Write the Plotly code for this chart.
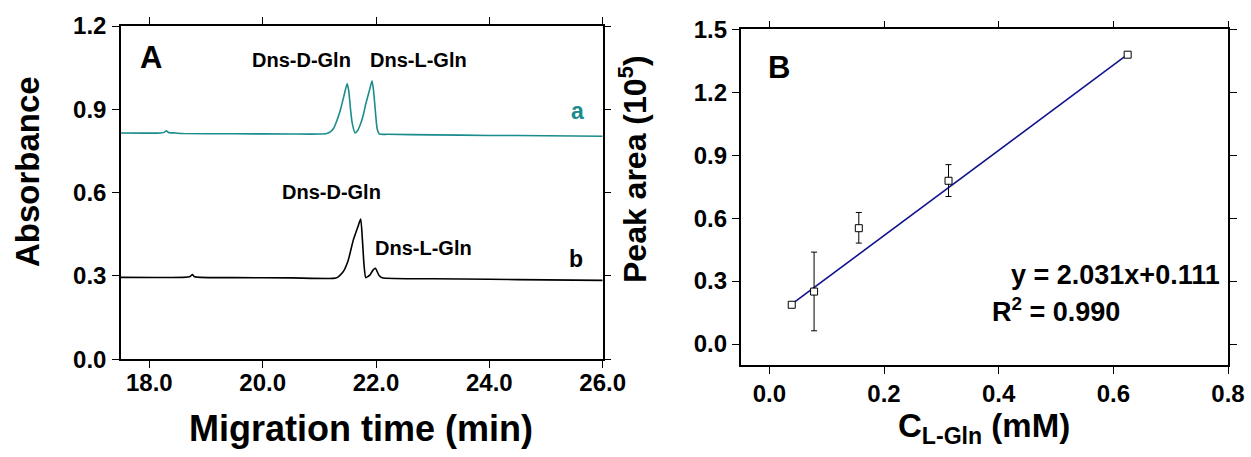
import plotly.graph_objects as go

# ---------------- Data ----------------
# Panel A: electropherograms (migration time in min, absorbance)
trace_a_t = [17.5, 18.2, 18.27, 18.30, 18.34, 18.45, 18.6, 19.5, 20.5, 21.0, 21.13, 21.20, 21.25,
             21.31, 21.37, 21.43, 21.49, 21.52, 21.55, 21.58, 21.63, 21.67, 21.71, 21.77, 21.82,
             21.88, 21.93, 21.96, 21.99, 22.02, 22.06, 22.2, 23.0, 24.0, 25.0, 26.0]
trace_a_abs = [0.815, 0.815, 0.818, 0.823, 0.817, 0.815, 0.813, 0.812, 0.811, 0.811, 0.813, 0.820,
               0.831, 0.86, 0.897, 0.945, 0.993, 0.965, 0.90, 0.85, 0.815, 0.822, 0.838, 0.875,
               0.92, 0.965, 1.003, 0.96, 0.89, 0.83, 0.811, 0.810, 0.808, 0.806, 0.805, 0.803]

trace_b_t = [17.5, 18.6, 18.72, 18.76, 18.80, 18.9, 19.5, 20.5, 21.25, 21.32, 21.42, 21.51, 21.60,
             21.69, 21.73, 21.76, 21.79, 21.82, 21.89, 21.95, 21.99, 22.05, 22.11, 23.0, 24.0,
             25.0, 26.0]
trace_b_abs = [0.295, 0.295, 0.298, 0.305, 0.297, 0.295, 0.294, 0.293, 0.2915, 0.295, 0.315, 0.357,
               0.43, 0.483, 0.505, 0.43, 0.335, 0.294, 0.303, 0.322, 0.328, 0.303, 0.294, 0.290,
               0.288, 0.286, 0.284]

# Panel B: calibration
conc = [0.039, 0.078, 0.156, 0.3125, 0.625]
peak_area = [0.187, 0.25, 0.552, 0.778, 1.379]
err_plus = [0.01, 0.188, 0.075, 0.077, 0.008]
err_minus = [0.01, 0.187, 0.071, 0.075, 0.008]
fit_x = [0.039, 0.625]
fit_y = [0.19, 1.38]

a_xticks = [18, 20, 22, 24, 26]
a_xlabels = ["18.0", "20.0", "22.0", "24.0", "26.0"]
a_yticks = [0.0, 0.3, 0.6, 0.9, 1.2]
a_ylabels = ["0.0", "0.3", "0.6", "0.9", "1.2"]
b_xticks = [0.0, 0.2, 0.4, 0.6, 0.8]
b_xlabels = ["0.0", "0.2", "0.4", "0.6", "0.8"]
b_yticks = [0.0, 0.3, 0.6, 0.9, 1.2, 1.5]
b_ylabels = ["0.0", "0.3", "0.6", "0.9", "1.2", "1.5"]

# ---------------- Figure ----------------
W, H = 1251, 457
FONT = "Arial, Liberation Sans, Helvetica, sans-serif"
TEAL = "#1a8c8c"
NAVY = "#12128f"

def px(x):
    return x / W

def py(y):
    return (H - y) / H

def b(labels):
    return ["<b>%s</b>" % s for s in labels]

fig = go.Figure()

fig.add_trace(go.Scatter(x=trace_a_t, y=trace_a_abs, mode="lines",
                         line=dict(color=TEAL, width=1.6, shape="spline", smoothing=0.5),
                         xaxis="x", yaxis="y", showlegend=False, hoverinfo="skip"))
fig.add_trace(go.Scatter(x=trace_b_t, y=trace_b_abs, mode="lines",
                         line=dict(color="black", width=1.6, shape="spline", smoothing=0.5),
                         xaxis="x", yaxis="y", showlegend=False, hoverinfo="skip"))

fig.add_trace(go.Scatter(x=fit_x, y=fit_y, mode="lines",
                         line=dict(color=NAVY, width=1.6), xaxis="x2", yaxis="y2",
                         showlegend=False, hoverinfo="skip"))
fig.add_trace(go.Scatter(x=conc, y=peak_area, mode="markers",
                         marker=dict(symbol="square", size=7, color="white",
                                     line=dict(color="black", width=1)),
                         error_y=dict(type="data", array=err_plus, arrayminus=err_minus,
                                      color="black", thickness=1, width=3),
                         xaxis="x2", yaxis="y2", showlegend=False, hoverinfo="skip"))

tickfont = dict(family=FONT, size=24, color="black")
common = dict(showline=True, linecolor="black", linewidth=1.5, mirror="ticks",
              ticks="outside", ticklen=7, tickwidth=1, tickcolor="black",
              showgrid=False, zeroline=False, tickfont=tickfont, automargin=False)

fig.update_layout(
    width=W, height=H, autosize=False,
    margin=dict(l=0, r=0, t=0, b=0, pad=0),
    paper_bgcolor="white", plot_bgcolor="white",
    xaxis=dict(domain=[px(121), px(602.7)], range=[17.5, 26], tickvals=a_xticks,
               ticktext=b(a_xlabels), anchor="y", ticklabelstandoff=-6, **common),
    yaxis=dict(domain=[py(359.3), py(26)], range=[0, 1.2], tickvals=a_yticks,
               ticktext=b(a_ylabels), anchor="x", ticklabelstandoff=1, **common),
    xaxis2=dict(domain=[px(740.7), px(1228)], range=[-0.05, 0.8], tickvals=b_xticks,
                ticktext=b(b_xlabels), anchor="y2", ticklabelstandoff=-1, **common),
    yaxis2=dict(domain=[py(365), py(29.3)], range=[-0.1, 1.5], tickvals=b_yticks,
                ticktext=b(b_ylabels), anchor="x2", ticklabelstandoff=0, **common),
)

def f(size, color="black"):
    return dict(family=FONT, size=size, color=color)

def paper_ann(text, x, y, size, angle=0, xanchor="center", color="black"):
    return dict(text="<b>%s</b>" % text, x=px(x), y=py(y), xref="paper", yref="paper",
                showarrow=False, textangle=angle, font=f(size, color),
                xanchor=xanchor, yanchor="middle")

def data_ann(text, x, y, size, color="black"):
    return dict(text="<b>%s</b>" % text, x=x, y=y, xref="x", yref="y", showarrow=False,
                font=f(size, color), xanchor="center", yanchor="middle")

ann = [
    paper_ann("A", 151, 57.5, 31),
    paper_ann("B", 778.6, 68, 31),
    paper_ann("Absorbance", 27, 172, 33, angle=-90),
    paper_ann("Migration time (min)", 361, 428, 36),
    paper_ann("Peak area (10<sup>5</sup>)", 633, 169, 32, angle=-90),
    paper_ann("C<sub>L-Gln</sub> (mM)", 984, 428, 33),
    data_ann("Dns-D-Gln", 20.68, 1.077, 20),
    data_ann("Dns-L-Gln", 22.75, 1.077, 20),
    data_ann("Dns-D-Gln", 21.22, 0.601, 20),
    data_ann("Dns-L-Gln", 22.83, 0.40, 20),
    data_ann("a", 25.56, 0.893, 23, TEAL),
    data_ann("b", 25.53, 0.36, 23),
    paper_ann("y = 2.031x+0.111", 1222, 275, 27, xanchor="right"),
    paper_ann("R<sup>2</sup> = 0.990", 1056, 310, 27),
]

fig.update_layout(annotations=ann)
fig.write_html("out.html", config={"displayModeBar": False},
               post_script="document.body.style.margin='0';document.body.style.padding='0';"
                           "document.body.style.overflow='hidden';")
